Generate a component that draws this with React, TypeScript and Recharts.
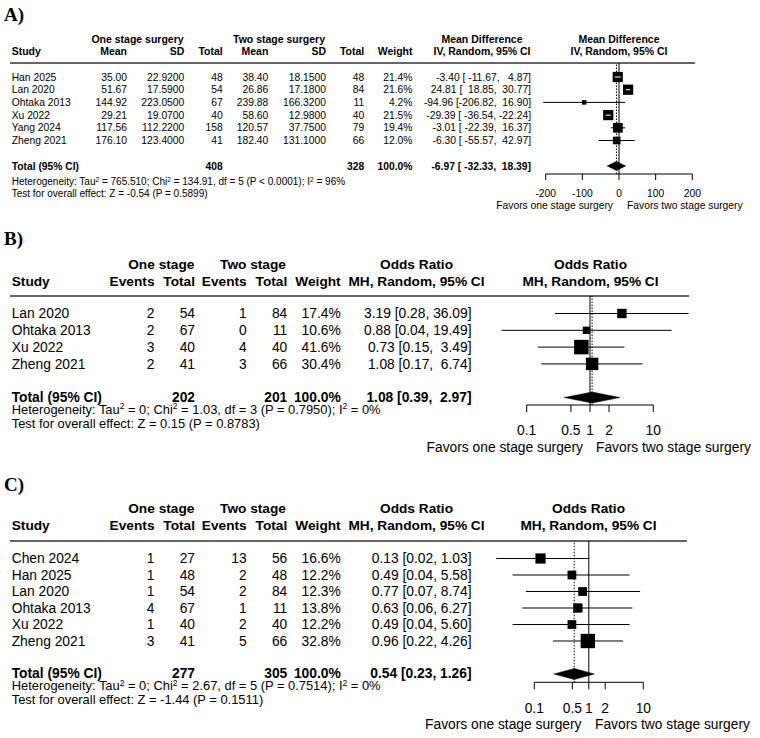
import React from "react";
import { ScatterChart, Scatter, XAxis, YAxis, ReferenceLine, ReferenceArea } from "recharts";

const FONT = "'Liberation Sans', Arial, Helvetica, sans-serif";
const SERIF = "'Liberation Serif', 'Times New Roman', serif";
const NB = "\u00A0";

// A) mean difference, one vs two stage surgery
const studiesA = ["Han 2025", "Lan 2020", "Ohtaka 2013", "Xu 2022", "Yang 2024", "Zheng 2021"];
const oneMeanA = [35.0, 51.67, 144.92, 29.21, 117.56, 176.1];
const oneSdA = [22.92, 17.59, 223.05, 19.07, 112.22, 123.4];
const oneNA = [48, 54, 67, 40, 158, 41];
const twoMeanA = [38.4, 26.86, 239.88, 58.6, 120.57, 182.4];
const twoSdA = [18.15, 17.18, 166.32, 12.98, 37.75, 131.1];
const twoNA = [48, 84, 11, 40, 79, 66];
const weightA = [21.4, 21.6, 4.2, 21.5, 19.4, 12.0];
const mdA = [-3.4, 24.81, -94.96, -29.39, -3.01, -6.3];
const mdLoA = [-11.67, 18.85, -206.82, -36.54, -22.39, -55.57];
const mdHiA = [4.87, 30.77, 16.9, -22.24, 16.37, 42.97];
const pooledA = [-6.97, -32.33, 18.39];
const totalsA = [408, 328];
const ticksA = [-200, -100, 0, 100, 200];
const hetA = "Heterogeneity: Tau² = 765.510; Chi² = 134.91, df = 5 (P < 0.0001); I² = 96%";
const testA = "Test for overall effect: Z = -0.54 (P = 0.5899)";

// B) odds ratio
const studiesB = ["Lan 2020", "Ohtaka 2013", "Xu 2022", "Zheng 2021"];
const oneEvB = [2, 2, 3, 2];
const oneNB = [54, 67, 40, 41];
const twoEvB = [1, 0, 4, 3];
const twoNB = [84, 11, 40, 66];
const weightB = [17.4, 10.6, 41.6, 30.4];
const orB = [3.19, 0.88, 0.73, 1.08];
const orLoB = [0.28, 0.04, 0.15, 0.17];
const orHiB = [36.09, 19.49, 3.49, 6.74];
const pooledB = [1.08, 0.39, 2.97];
const totalsB = [202, 201];
const hetB = "Heterogeneity: Tau² = 0; Chi² = 1.03, df = 3 (P = 0.7950); I² = 0%";
const testB = "Test for overall effect: Z = 0.15 (P = 0.8783)";

// C) odds ratio
const studiesC = ["Chen 2024", "Han 2025", "Lan 2020", "Ohtaka 2013", "Xu 2022", "Zheng 2021"];
const oneEvC = [1, 1, 1, 4, 1, 3];
const oneNC = [27, 48, 54, 67, 40, 41];
const twoEvC = [13, 2, 2, 1, 2, 5];
const twoNC = [56, 48, 84, 11, 40, 66];
const weightC = [16.6, 12.2, 12.3, 13.8, 12.2, 32.8];
const orC = [0.13, 0.49, 0.77, 0.63, 0.49, 0.96];
const orLoC = [0.02, 0.04, 0.07, 0.06, 0.04, 0.22];
const orHiC = [1.03, 5.58, 8.74, 6.27, 5.6, 4.26];
const pooledC = [0.54, 0.23, 1.26];
const totalsC = [277, 305];
const hetC = "Heterogeneity: Tau² = 0; Chi² = 2.67, df = 5 (P = 0.7514); I² = 0%";
const testC = "Test for overall effect: Z = -1.44 (P = 0.1511)";

const ticksOR = [0.1, 0.5, 1, 2, 10];

// panel geometry (page pixels)
const geoA = { headerY: 63, axisY: 174, row0: 77, rowH: 12.7, plotL: 545.7, plotR: 692.3, ruleR: 695 };
const geoB = { headerY: 296, axisY: 405, row0: 313.5, rowH: 16.8, plotL: 526.7, plotR: 653.3, ruleR: 689 };
const geoC = { headerY: 541, axisY: 682.3, row0: 558.5, rowH: 16.5, plotL: 534.3, plotR: 643.3, ruleR: 687 };
const CHART_L = 470;
const CHART_W = 260;
const AXIS_H = 40;

function T({ x, y, s, a = "start", b = false, children }: any) {
  return (
    <text x={x} y={y + 0.358 * s} fontSize={s} fontFamily={FONT} fontWeight={b ? 700 : 400} textAnchor={a} fill="#000">
      {children}
    </text>
  );
}

const withSup = (str: string, s: number) =>
  str.split("²").flatMap((part, i) =>
    i === 0
      ? [part]
      : [
          <tspan key={i + "s"} dy={-0.33 * s} fontSize={0.66 * s}>2</tspan>,
          <tspan key={i + "t"} dy={0.33 * s} fontSize={s}>{part}</tspan>,
        ]
  );

const padW = (vals: number[]) => Math.max(...vals.map((v) => v.toFixed(2).length));
const ciText = (est: number, lo: number, hi: number, loW: number, hiW: number) =>
  `${est.toFixed(2)} [${lo.toFixed(2).padStart(loW, NB)}, ${hi.toFixed(2).padStart(hiW, NB)}]`;

function Forest({ g, est, lo, hi, w, pooled, domain, ticks, log, nullX, k, hh, fs, tickSize, tickMargin }: any) {
  const rows = est.map((x: number, i: number) => ({ x, y: i, w: w[i], lo: lo[i], hi: hi[i] }));
  const plotH = g.axisY - g.headerY;
  const yTop = (g.headerY - g.row0) / g.rowH;
  const yBot = (g.axisY - g.row0) / g.rowH;
  const tot = rows.length + 1;

  const box = (p: any) => {
    const s = k * Math.sqrt(p.payload.w);
    return <rect x={p.cx - s / 2} y={p.cy - s / 2} width={s} height={s} fill="#000" />;
  };
  // CI whiskers; drawn white when the interval sits inside its box
  const whisker = (s: number) => (p: any) => (
    <line x1={p.x1} y1={p.y1} x2={p.x2} y2={p.y2} stroke={Math.abs(p.x2 - p.x1) < s - 1 ? "#fff" : "#000"} strokeWidth={1} />
  );
  const leftHalf = (p: any) => {
    const cy = p.y + p.height / 2;
    return <polygon points={`${p.x},${cy} ${p.x + p.width},${cy - hh} ${p.x + p.width},${cy + hh}`} fill="#000" stroke="#000" strokeWidth={0.5} />;
  };
  const rightHalf = (p: any) => {
    const cy = p.y + p.height / 2;
    return <polygon points={`${p.x},${cy - hh} ${p.x + p.width},${cy} ${p.x},${cy + hh}`} fill="#000" stroke="#000" strokeWidth={0.5} />;
  };

  return (
    <div style={{ position: "absolute", left: CHART_L, top: g.headerY }}>
      <ScatterChart
        width={CHART_W}
        height={plotH + AXIS_H}
        margin={{ top: 0, bottom: 0, left: g.plotL - CHART_L, right: CHART_L + CHART_W - g.plotR }}
      >
        <XAxis
          type="number"
          dataKey="x"
          scale={log ? "log" : "linear"}
          domain={domain}
          ticks={ticks}
          interval={0}
          allowDataOverflow
          height={AXIS_H}
          tickSize={tickSize}
          tickMargin={tickMargin}
          axisLine={{ stroke: "#000" }}
          tickLine={{ stroke: "#000" }}
          tick={{ fill: "#000", fontSize: fs, fontFamily: FONT }}
          tickFormatter={(v: number) => String(v)}
        />
        <YAxis type="number" dataKey="y" hide reversed domain={[yTop, yBot]} allowDataOverflow />
        <ReferenceLine x={nullX} stroke="#000" strokeWidth={1} ifOverflow="visible" />
        <ReferenceLine x={pooled[0]} stroke="#000" strokeWidth={1} strokeDasharray="1.5 1.5" ifOverflow="visible" />
        <ReferenceArea x1={pooled[1]} x2={pooled[0]} y1={tot - 0.4} y2={tot + 0.4} ifOverflow="visible" shape={leftHalf} />
        <ReferenceArea x1={pooled[0]} x2={pooled[2]} y1={tot - 0.4} y2={tot + 0.4} ifOverflow="visible" shape={rightHalf} />
        <Scatter data={rows} isAnimationActive={false} shape={box} />
        {rows.map((r: any, i: number) => (
          <ReferenceLine
            key={i}
            segment={[{ x: r.lo, y: r.y }, { x: r.hi, y: r.y }]}
            ifOverflow="visible"
            zIndex={650}
            shape={whisker(k * Math.sqrt(r.w))}
          />
        ))}
      </ScatterChart>
    </div>
  );
}

function TableA() {
  const g = geoA;
  const s = 10.3;
  const h = 10.5;
  const loW = padW([...mdLoA, pooledA[1]]);
  const hiW = padW([...mdHiA, pooledA[2]]);
  const ry = (i: number) => g.row0 + i * g.rowH;
  const tot = ry(studiesA.length + 1);
  return (
    <g>
      <text x={4} y={15 + 0.33 * 19} fontFamily={SERIF} fontWeight={700} fontSize={19}>A)</text>
      <T x={137.5} y={39} s={h} a="middle" b>One stage surgery</T>
      <T x={279} y={39} s={h} a="middle" b>Two stage surgery</T>
      <T x={482} y={39} s={h} a="middle" b>Mean Difference</T>
      <T x={619} y={39} s={h} a="middle" b>Mean Difference</T>
      <T x={11.7} y={51.7} s={h} b>Study</T>
      <T x={127} y={51.7} s={h} a="end" b>Mean</T>
      <T x={184.3} y={51.7} s={h} a="end" b>SD</T>
      <T x={222.7} y={51.7} s={h} a="end" b>Total</T>
      <T x={268.3} y={51.7} s={h} a="end" b>Mean</T>
      <T x={326} y={51.7} s={h} a="end" b>SD</T>
      <T x={364.3} y={51.7} s={h} a="end" b>Total</T>
      <T x={412.5} y={51.7} s={h} a="end" b>Weight</T>
      <T x={482} y={51.7} s={h} a="middle" b>IV, Random, 95% CI</T>
      <T x={619} y={51.7} s={h} a="middle" b>IV, Random, 95% CI</T>
      <line x1={10} x2={g.ruleR} y1={g.headerY} y2={g.headerY} stroke="#333" strokeWidth={1.5} />
      {studiesA.map((name, i) => (
        <g key={name}>
          <T x={11.7} y={ry(i)} s={s}>{name}</T>
          <T x={127} y={ry(i)} s={s} a="end">{oneMeanA[i].toFixed(2)}</T>
          <T x={184.3} y={ry(i)} s={s} a="end">{oneSdA[i].toFixed(4)}</T>
          <T x={222.7} y={ry(i)} s={s} a="end">{oneNA[i]}</T>
          <T x={268.3} y={ry(i)} s={s} a="end">{twoMeanA[i].toFixed(2)}</T>
          <T x={326} y={ry(i)} s={s} a="end">{twoSdA[i].toFixed(4)}</T>
          <T x={364.3} y={ry(i)} s={s} a="end">{twoNA[i]}</T>
          <T x={412.5} y={ry(i)} s={s} a="end">{weightA[i].toFixed(1)}%</T>
          <T x={531} y={ry(i)} s={s} a="end">{ciText(mdA[i], mdLoA[i], mdHiA[i], loW, hiW)}</T>
        </g>
      ))}
      <T x={11.7} y={tot} s={s} b>Total (95% CI)</T>
      <T x={222.7} y={tot} s={s} a="end" b>{totalsA[0]}</T>
      <T x={364.3} y={tot} s={s} a="end" b>{totalsA[1]}</T>
      <T x={412.5} y={tot} s={s} a="end" b>100.0%</T>
      <T x={531} y={tot} s={s} a="end" b>{ciText(pooledA[0], pooledA[1], pooledA[2], loW, hiW)}</T>
      <T x={11.7} y={181.7} s={10}>{withSup(hetA, 10)}</T>
      <T x={11.7} y={193.3} s={10}>{testA}</T>
      <T x={613} y={205} s={10.3} a="end">Favors one stage surgery</T>
      <T x={627} y={205} s={10.3}>Favors two stage surgery</T>
    </g>
  );
}

function TableOR({ label, g, titleY, hdr1, hdr2, studies, oneEv, oneN, twoEv, twoN, w, est, lo, hi, pooled, totals, het, test, hetY, testY, plotC, favY, favL, favR }: any) {
  const s = 13.8;
  const h = 13.7;
  const f = 12.9;
  const loW = padW([...lo, pooled[1]]);
  const hiW = padW([...hi, pooled[2]]);
  const ry = (i: number) => g.row0 + i * g.rowH;
  const tot = ry(studies.length + 1) - 0.6;
  return (
    <g>
      <text x={4} y={titleY + 0.33 * 19} fontFamily={SERIF} fontWeight={700} fontSize={19}>{label}</text>
      <T x={161.3} y={hdr1} s={h} a="middle" b>One stage</T>
      <T x={253} y={hdr1} s={h} a="middle" b>Two stage</T>
      <T x={416.5} y={hdr1} s={h} a="middle" b>Odds Ratio</T>
      <T x={plotC} y={hdr1} s={h} a="middle" b>Odds Ratio</T>
      <T x={11.7} y={hdr2} s={h} b>Study</T>
      <T x={154.5} y={hdr2} s={h} a="end" b>Events</T>
      <T x={195} y={hdr2} s={h} a="end" b>Total</T>
      <T x={246.7} y={hdr2} s={h} a="end" b>Events</T>
      <T x={287.3} y={hdr2} s={h} a="end" b>Total</T>
      <T x={340.7} y={hdr2} s={h} a="end" b>Weight</T>
      <T x={416.5} y={hdr2} s={h} a="middle" b>MH, Random, 95% CI</T>
      <T x={plotC} y={hdr2} s={h} a="middle" b>MH, Random, 95% CI</T>
      <line x1={10} x2={g.ruleR} y1={g.headerY} y2={g.headerY} stroke="#333" strokeWidth={1.5} />
      {studies.map((name: string, i: number) => (
        <g key={name}>
          <T x={11.7} y={ry(i)} s={s}>{name}</T>
          <T x={154.5} y={ry(i)} s={s} a="end">{oneEv[i]}</T>
          <T x={195} y={ry(i)} s={s} a="end">{oneN[i]}</T>
          <T x={246.7} y={ry(i)} s={s} a="end">{twoEv[i]}</T>
          <T x={287.3} y={ry(i)} s={s} a="end">{twoN[i]}</T>
          <T x={340.7} y={ry(i)} s={s} a="end">{w[i].toFixed(1)}%</T>
          <T x={471.5} y={ry(i)} s={s} a="end">{ciText(est[i], lo[i], hi[i], loW, hiW)}</T>
        </g>
      ))}
      <T x={11.7} y={tot} s={s} b>Total (95% CI)</T>
      <T x={195} y={tot} s={s} a="end" b>{totals[0]}</T>
      <T x={287.3} y={tot} s={s} a="end" b>{totals[1]}</T>
      <T x={340.7} y={tot} s={s} a="end" b>100.0%</T>
      <T x={471.5} y={tot} s={s} a="end" b>{ciText(pooled[0], pooled[1], pooled[2], loW, hiW)}</T>
      <T x={11.7} y={hetY} s={f}>{withSup(het, f)}</T>
      <T x={11.7} y={testY} s={f}>{test}</T>
      <T x={favL} y={favY} s={s} a="end">Favors one stage surgery</T>
      <T x={favR} y={favY} s={s}>Favors two stage surgery</T>
    </g>
  );
}

export default function App() {
  return (
    <div style={{ position: "absolute", left: 0, top: 0, width: 760, height: 738, background: "#fff", overflow: "hidden" }}>
      <svg width={760} height={738} style={{ position: "absolute", left: 0, top: 0 }}>
        <TableA />
        <TableOR
          label="B)" g={geoB} titleY={238.5} hdr1={264} hdr2={281}
          studies={studiesB} oneEv={oneEvB} oneN={oneNB} twoEv={twoEvB} twoN={twoNB} w={weightB}
          est={orB} lo={orLoB} hi={orHiB} pooled={pooledB} totals={totalsB}
          het={hetB} test={testB} hetY={409} testY={423.8}
          plotC={590.5} favY={447} favL={583} favR={596}
        />
        <TableOR
          label="C)" g={geoC} titleY={485} hdr1={508.3} hdr2={524.7}
          studies={studiesC} oneEv={oneEvC} oneN={oneNC} twoEv={twoEvC} twoN={twoNC} w={weightC}
          est={orC} lo={orLoC} hi={orHiC} pooled={pooledC} totals={totalsC}
          het={hetC} test={testC} hetY={685.7} testY={699.8}
          plotC={588.5} favY={724} favL={581.5} favR={595}
        />
      </svg>
      <Forest
        g={geoA} est={mdA} lo={mdLoA} hi={mdHiA} w={weightA} pooled={pooledA}
        domain={[-200, 200]} ticks={ticksA} log={false} nullX={0} k={2.2} hh={4.5}
        fs={10.3} tickSize={6} tickMargin={9.6}
      />
      <Forest
        g={geoB} est={orB} lo={orLoB} hi={orHiB} w={weightB} pooled={pooledB}
        domain={[0.1, 10]} ticks={ticksOR} log nullX={1} k={2.25} hh={5.5}
        fs={13.8} tickSize={7} tickMargin={13}
      />
      <Forest
        g={geoC} est={orC} lo={orLoC} hi={orHiC} w={weightC} pooled={pooledC}
        domain={[0.1, 10]} ticks={ticksOR} log nullX={1} k={2.5} hh={5.5}
        fs={13.8} tickSize={7} tickMargin={13.5}
      />
    </div>
  );
}
